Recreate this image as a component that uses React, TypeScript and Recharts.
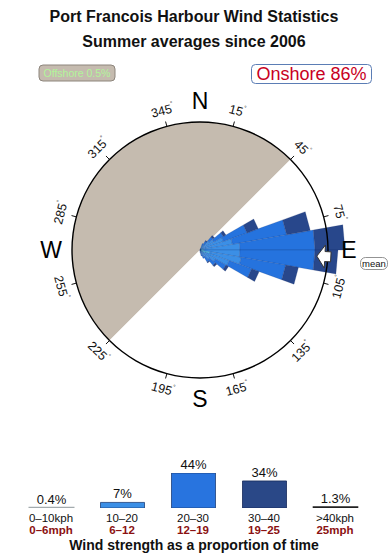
import React from 'react';
import {
  PieChart, Pie, Cell, RadialBarChart, RadialBar, PolarAngleAxis, PolarRadiusAxis,
  BarChart, Bar, XAxis, YAxis, LabelList,
} from 'recharts';

const FONT = '"Liberation Sans", Arial, Helvetica, sans-serif';
const CX = 200;
const CY = 250;
const R = 128;

// ---- rose data (percent of time per 10-degree direction bin, by speed band) ----
const directions = ['0', '10', '20', '30', '40', '50', '60', '70', '80', '90', '100', '110', '120', '130', '140', '150', '160', '170',
  '180', '190', '200', '210', '220', '230', '240', '250', '260', '270', '280', '290', '300', '310', '320', '330', '340', '350'];
const band0to10 = [0, 0, 0.2, 0.2, 0.4, 0.4, 0.6, 0.6, 0.8, 0.8, 2.0, 1.2, 0.6, 0.4, 0.2, 0.2, 0.2, 0.2,
  0, 0, 0, 0, 0, 0, 0, 0, 0, 0, 0, 0, 0, 0, 0, 0, 0, 0];
const band10to20 = [0, 0, 0.8, 1.2, 2.0, 2.8, 4.4, 6.0, 7.2, 7.2, 6.4, 5.0, 3.0, 2.0, 1.4, 1.0, 0.6, 0.4,
  0, 0, 0, 0, 0, 0, 0, 0, 0, 0, 0, 0, 0, 0, 0, 0, 0, 0];
const band20to30 = [0, 0, 0.4, 0.6, 1.0, 2.2, 5.0, 11.0, 15.0, 15.0, 9.0, 4.8, 2.4, 1.6, 1.2, 0.6, 0.4, 0,
  0, 0, 0, 0, 0, 0, 0, 0, 0, 0, 0, 0, 0, 0, 0, 0, 0, 0];
const band30to40 = [0, 0, 0, 0.2, 0.4, 0.6, 2.4, 4.8, 6.0, 4.6, 2.6, 1.6, 0.6, 0.4, 0.2, 0, 0, 0,
  0, 0, 0, 0, 0, 0, 0, 0, 0, 0, 0, 0, 0, 0, 0, 0, 0, 0];
const band40plus = [0, 0, 0, 0, 0, 0, 0, 0, 0, 0, 0, 0, 0, 0, 0, 0, 0, 0,
  0, 0, 0, 0, 0, 0, 0, 0, 0, 0, 0, 0, 0, 0, 0, 0, 0, 0];
const roseKeys = ['b1', 'b2', 'b3', 'b4', 'b5'];
const roseColors = ['#4fd6f2', '#3b8fe6', '#2573de', '#28478b', '#111111'];

const roseData = directions.map((dir, i) => ({
  dir,
  b1: band0to10[i],
  b2: band10to20[i],
  b3: band20to30[i],
  b4: band30to40[i],
  b5: band40plus[i],
}));

// ---- sector / annotation data ----
const shoreSectors = [
  { name: 'Offshore', value: 180 },
  { name: 'Onshore', value: 180 },
];
const degreeTicks = ['15', '45', '75', '105', '135', '165', '195', '225', '255', '285', '315', '345'];
const degreeTickData = degreeTicks.map((name) => ({ name, value: 30 }));
const compassLetters = ['N', 'E', 'S', 'W'];
const compassData = compassLetters.map((name) => ({ name, value: 90 }));
const meanDirection = 93;

// ---- legend bar data ----
const speedBands = ['0–10kph', '10–20', '20–30', '30–40', '>40kph'];
const mphBands = ['0–6mph', '6–12', '12–19', '19–25', '25mph'];
const bandShares = [0.4, 7, 44, 34, 1.3];
const barFills = ['#a3abae', '#3b8fe6', '#2874df', '#2a4887', '#222222'];
const barStrokes = ['#a3abae', '#1d3f7a', '#1d3f7a', '#17295a', '#222222'];
const barStrokeWidths = [2, 0.8, 0.8, 0.8, 1.6];
const legendData = speedBands.map((band, i) => ({ band, share: bandShares[i] }));

const RAD = Math.PI / 180;
const polar = (cx: number, cy: number, r: number, a: number): [number, number] => [
  cx + r * Math.cos(-a * RAD),
  cy + r * Math.sin(-a * RAD),
];

const makeWedge = (fill: string) => (props: any) => {
  const { cx, cy, innerRadius, outerRadius, startAngle, endAngle } = props;
  if (!(outerRadius - innerRadius > 0.05)) return <g />;
  const pts = [
    polar(cx, cy, innerRadius, startAngle),
    polar(cx, cy, outerRadius, startAngle),
    polar(cx, cy, outerRadius, endAngle),
    polar(cx, cy, innerRadius, endAngle),
  ];
  return (
    <polygon
      points={pts.map((p) => p.join(',')).join(' ')}
      fill={fill}
      stroke="rgba(20,40,100,0.35)"
      strokeWidth={0.5}
    />
  );
};

const renderDegTick = (props: any) => {
  const { cx, cy, midAngle, name } = props;
  const bearing = (((90 - midAngle) % 360) + 360) % 360;
  let rot = bearing;
  if (bearing > 90 && bearing < 270) rot = bearing - 180;
  else if (bearing >= 270) rot = bearing - 360;
  const [x1, y1] = polar(cx, cy, R, midAngle);
  const [x2, y2] = polar(cx, cy, R + 5, midAngle);
  const [tx, ty] = polar(cx, cy, 144, midAngle);
  return (
    <g key={`deg-${name}`}>
      <line x1={x1} y1={y1} x2={x2} y2={y2} stroke="#111" strokeWidth={1} />
      <text
        x={tx}
        y={ty}
        transform={`rotate(${rot} ${tx} ${ty})`}
        textAnchor="middle"
        dominantBaseline="central"
        fontSize={12.5}
        fontFamily={FONT}
        fill="#111"
      >
        {name}
        <tspan fontSize={6} dy={-5}>°</tspan>
      </text>
    </g>
  );
};

const renderCompass = (props: any) => {
  const { cx, cy, midAngle, name } = props;
  const [tx, ty] = polar(cx, cy, 149, midAngle);
  return (
    <text
      key={`cmp-${name}`}
      x={tx}
      y={ty}
      textAnchor="middle"
      dominantBaseline="central"
      fontSize={23}
      fontFamily={FONT}
      fill="#000"
    >
      {name}
    </text>
  );
};

const renderMeanArrow = (props: any) => {
  const { cx, cy, midAngle } = props;
  const a = -midAngle * RAD;
  const ux = Math.cos(a);
  const uy = Math.sin(a);
  const vx = -uy;
  const vy = ux;
  const local: [number, number][] = [
    [117, 0], [125, -11.5], [125, -5], [131, -5], [131, 5], [125, 5], [125, 11.5],
  ];
  const pts = local.map(([r, t]) => `${cx + r * ux + t * vx},${cy + r * uy + t * vy}`).join(' ');
  return <polygon key="mean" points={pts} fill="#fff" stroke="#333" strokeWidth={1} strokeLinejoin="round" />;
};

const SpeedTick = (props: any) => {
  const { x, y, payload } = props;
  const idx = props.index ?? payload.index ?? 0;
  return (
    <g>
      <text x={x} y={y + 14} textAnchor="middle" fontSize={11.5} fontFamily={FONT} fill="#111">
        {payload.value}
      </text>
      <text x={x} y={y + 25.5} textAnchor="middle" fontSize={11.5} fontWeight="bold" fontFamily={FONT} fill="#8b1111">
        {mphBands[idx]}
      </text>
    </g>
  );
};

const layer: React.CSSProperties = { position: 'absolute', left: 0, top: 0 };

export default function App() {
  return (
    <div style={{ position: 'absolute', left: 0, top: 0, width: 390, height: 560, background: '#fff', fontFamily: FONT }}>
      {/* offshore / onshore sectors */}
      <div style={layer}>
        <PieChart width={390} height={560} margin={{ top: 0, right: 0, bottom: 0, left: 0 }}>
          <Pie
            data={shoreSectors}
            dataKey="value"
            nameKey="name"
            cx={CX}
            cy={CY}
            innerRadius={0}
            outerRadius={R}
            startAngle={45}
            endAngle={405}
            stroke="none"
            isAnimationActive={false}
          >
            <Cell fill="#c5bbaf" />
            <Cell fill="#ffffff" />
          </Pie>
        </PieChart>
      </div>

      {/* wind rose petals */}
      <div style={layer}>
        <RadialBarChart
          width={390}
          height={560}
          data={roseData}
          layout="centric"
          cx={CX}
          cy={CY}
          innerRadius={0}
          outerRadius={150}
          startAngle={80}
          endAngle={-280}
          barCategoryGap="0%"
          margin={{ top: 0, right: 0, bottom: 0, left: 0 }}
        >
          <PolarAngleAxis type="category" dataKey="dir" tick={false} axisLine={false} tickLine={false} />
          <PolarRadiusAxis type="number" domain={[0, 30]} allowDataOverflow tick={false} axisLine={false} />
          {roseKeys.map((k, i) => (
            <RadialBar
              key={k}
              dataKey={k}
              stackId="rose"
              fill={roseColors[i]}
              shape={makeWedge(roseColors[i])}
              isAnimationActive={false}
            />
          ))}
        </RadialBarChart>
      </div>

      {/* ring, ticks, compass letters, mean arrow */}
      <div style={layer}>
        <PieChart width={390} height={560} margin={{ top: 0, right: 0, bottom: 0, left: 0 }}>
          <Pie
            data={[{ name: 'ring', value: 1 }]}
            dataKey="value"
            cx={CX}
            cy={CY}
            innerRadius={R - 0.7}
            outerRadius={R + 0.7}
            startAngle={0}
            endAngle={360}
            fill="#000"
            stroke="none"
            isAnimationActive={false}
          />
          <Pie
            data={degreeTickData}
            dataKey="value"
            nameKey="name"
            cx={CX}
            cy={CY}
            innerRadius={0}
            outerRadius={R}
            startAngle={90}
            endAngle={-270}
            fill="none"
            stroke="none"
            label={renderDegTick}
            labelLine={false}
            isAnimationActive={false}
          />
          <Pie
            data={compassData}
            dataKey="value"
            nameKey="name"
            cx={CX}
            cy={CY}
            innerRadius={0}
            outerRadius={R}
            startAngle={135}
            endAngle={-225}
            fill="none"
            stroke="none"
            label={renderCompass}
            labelLine={false}
            isAnimationActive={false}
          />
          <Pie
            data={[{ name: 'mean', value: 1 }]}
            dataKey="value"
            nameKey="name"
            cx={CX}
            cy={CY}
            innerRadius={0}
            outerRadius={R}
            startAngle={90 - meanDirection + 0.5}
            endAngle={90 - meanDirection - 0.5}
            fill="none"
            stroke="none"
            label={renderMeanArrow}
            labelLine={false}
            isAnimationActive={false}
          />
        </PieChart>
      </div>

      {/* wind strength legend bars */}
      <div style={layer}>
        <BarChart
          width={390}
          height={560}
          data={legendData}
          margin={{ top: 473, right: 19.5, bottom: 0, left: 15.5 }}
          barCategoryGap={0}
        >
          <XAxis
            dataKey="band"
            height={52}
            axisLine={false}
            tickLine={false}
            tickSize={0}
            tickMargin={0}
            interval={0}
            tick={<SpeedTick />}
          />
          <YAxis hide domain={[0, 44]} allowDataOverflow />
          <Bar dataKey="share" barSize={44} isAnimationActive={false}>
            {legendData.map((d, i) => (
              <Cell key={d.band} fill={barFills[i]} stroke={barStrokes[i]} strokeWidth={barStrokeWidths[i]} />
            ))}
            <LabelList
              dataKey="share"
              position="top"
              offset={4}
              formatter={(v: any) => `${v}%`}
              fontSize={13}
              fontFamily={FONT}
              fill="#111"
            />
          </Bar>
        </BarChart>
      </div>

      {/* titles and badges */}
      <svg width={390} height={560} style={{ ...layer, pointerEvents: 'none' }}>
        <text x={194} y={22} textAnchor="middle" fontSize={16} fontWeight="bold" fontFamily={FONT} fill="#111">
          Port Francois Harbour Wind Statistics
        </text>
        <text x={194} y={46.5} textAnchor="middle" fontSize={16} fontWeight="bold" fontFamily={FONT} fill="#111">
          Summer averages since 2006
        </text>
        <rect x={39} y={65} width={76} height={16} rx={4} fill="#c5bbaf" stroke="#8d857c" strokeWidth={1} />
        <text x={77} y={77} textAnchor="middle" fontSize={10.5} fontFamily={FONT} fill="#b2f59a">
          Offshore 0.5%
        </text>
        <rect x={251.5} y={64.5} width={120} height={19} rx={4} fill="#fff" stroke="#5b7db5" strokeWidth={1} />
        <text x={311.5} y={80} textAnchor="middle" fontSize={18} fontFamily={FONT} fill="#c8001e">
          Onshore 86%
        </text>
        <rect x={360.5} y={257.5} width={27} height={12} rx={5} fill="#fff" stroke="#777" strokeWidth={0.8} />
        <text x={374} y={266.5} textAnchor="middle" fontSize={9.5} fontFamily={FONT} fill="#111">
          mean
        </text>
        <text x={194} y={550} textAnchor="middle" fontSize={14} fontWeight="bold" fontFamily={FONT} fill="#111">
          Wind strength as a proportion of time
        </text>
      </svg>
    </div>
  );
}
